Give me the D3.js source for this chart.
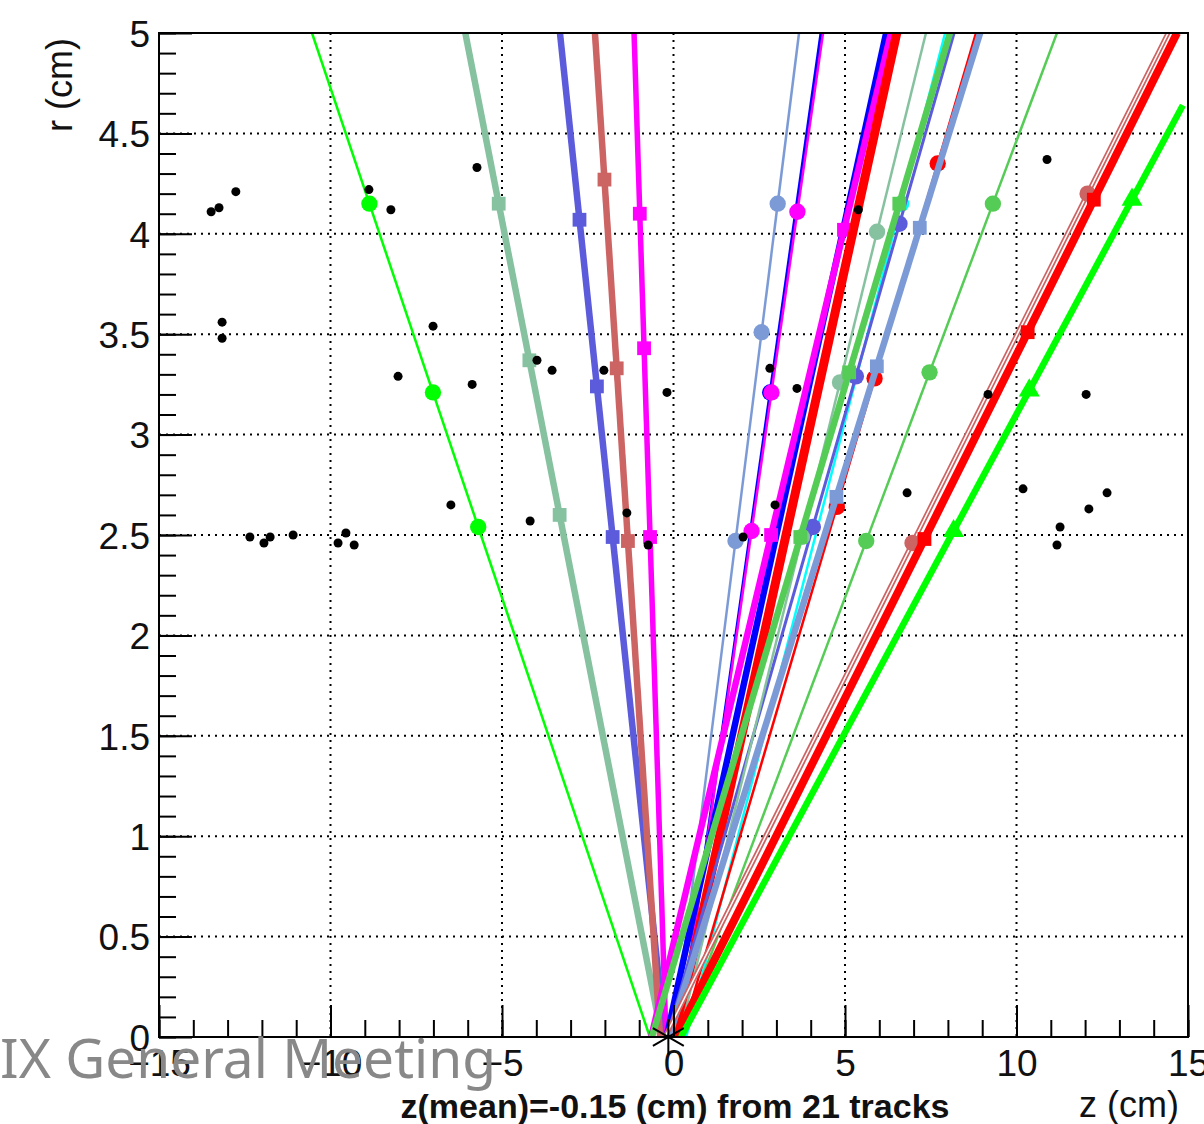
<!DOCTYPE html>
<html>
<head>
<meta charset="utf-8">
<script src="https://cdn.jsdelivr.net/npm/d3@7"></script>
<style>
  body { margin: 0; background: #fff; }
  svg { display: block; }
  .tick text { font-family: "Liberation Sans", Arial, sans-serif; font-size: 37px; fill: #111; }
  .axis path { display: none; }
  .axis line { stroke: #000; stroke-width: 2; }
</style>
</head>
<body>
<div id="chart"></div>
<script>
// track fits: z at r=0, z at the top end, r of the top end
const trackZ0   = [-0.69, -0.34, -0.25, -0.39, -0.22, 0.00, 0.16, 0.16, -0.20, -0.65, 0.05, 0.37, -0.19, 0.16, -0.63, 0.22, -0.13, 0.19, -0.25, 0.07, 0.22];
const trackZTop = [-10.54, -6.07, -3.31, -2.29, -1.15, 3.66, 4.30, 4.36, 6.20, 6.34, 6.51, 7.92, 8.18, 7.36, 8.06, 8.82, 8.94, 11.18, 14.42, 14.68, 14.85];
const trackRTop = [5, 5, 5, 5, 5, 5, 5, 5, 5, 5, 5, 5, 5, 5, 5, 5, 5, 5, 5, 5, 4.64];
const trackColors = ['#00ff00', '#86c1a0', '#5b5bdb', '#cc6464', '#ff00ff', '#7c9bd6', '#0000ff', '#ff00ff',
  '#0000ff', '#ff00ff', '#ff0000', '#00ffff', '#5b5bdb', '#86c1a0', '#55cc55', '#ff0000', '#7c9bd6', '#55cc55',
  '#cc6464', '#ff0000', '#00ff00'];
const trackWidths = [2.5, 6.5, 6.5, 6.5, 5.5, 2.5, 3, 2.5, 6.5, 6.5, 9, 2.5, 3, 2.5, 6.5, 2.5, 6.5, 2.5, 5, 8, 6.5];
const trackMarkers = ['circle', 'square', 'square', 'square', 'square', 'circle', 'circle', 'circle',
  'square', 'square', 'square', 'circle', 'circle', 'circle', 'square', 'circle', 'square', 'circle',
  'circle', 'square', 'triangle'];
// r of the hits assigned to each track
const trackHits = [
  [4.15, 3.21, 2.54], [4.15, 3.37, 2.60], [4.07, 3.24, 2.49], [4.27, 3.33, 2.47], [4.10, 3.43, 2.49],
  [4.15, 3.51, 2.47], [3.21], [4.11, 3.21, 2.52], [], [4.02, 2.50], [], [4.15],
  [4.05, 3.29, 2.54], [4.01, 3.26, 2.49], [4.15, 3.31, 2.49], [4.35, 3.28, 2.64], [4.03, 3.34, 2.69],
  [4.15, 3.31, 2.47], [4.20, 2.46], [4.17, 3.51, 2.48], [4.17, 3.22, 2.52]
];

// hits not used by any track
const freeZ = [-13.48, -13.25, -12.76, -13.16, -13.16, -8.88, -8.24, -8.03, -7.01, -5.87, -6.49, -4.18,
  -12.35, -11.94, -11.76, -11.09, -9.78, -9.55, -9.31, -5.73, -3.98, -3.54, -2.03, -0.19, -1.36, -0.74,
  5.39, 2.81, 3.60, 2.96, 2.03, 6.81, 10.89, 9.17, 12.03, 10.19, 12.64, 12.11, 11.27, 11.18];
const freeR = [4.11, 4.13, 4.21, 3.56, 3.48, 4.22, 4.12, 3.29, 3.54, 3.25, 2.65, 2.57,
  2.49, 2.46, 2.49, 2.50, 2.46, 2.51, 2.45, 4.33, 3.37, 3.32, 3.32, 3.21, 2.61, 2.45,
  4.12, 3.33, 3.23, 2.65, 2.49, 2.71, 4.37, 3.20, 3.20, 2.73, 2.71, 2.63, 2.54, 2.45];

const zMean = -0.15;
const nTracks = 21;

const W = 1204, H = 1124;
const plotLeft = 159, plotRight = 1188, plotTop = 33, plotBottom = 1037;

const svg = d3.select('#chart').append('svg')
  .attr('width', W)
  .attr('height', H);

const x = d3.scaleLinear().domain([-15, 15]).range([plotLeft, plotRight]);
const y = d3.scaleLinear().domain([0, 5]).range([plotBottom, plotTop]);

svg.append('clipPath')
  .attr('id', 'plot-clip')
  .append('rect')
  .attr('x', plotLeft)
  .attr('y', plotTop)
  .attr('width', plotRight - plotLeft)
  .attr('height', plotBottom - plotTop);

// dotted grid
const grid = svg.append('g').attr('class', 'grid');
grid.selectAll('.gx')
  .data([-10, -5, 0, 5, 10])
  .enter()
  .append('line')
  .attr('x1', d => x(d))
  .attr('x2', d => x(d))
  .attr('y1', plotTop)
  .attr('y2', plotBottom)
  .attr('stroke', '#000')
  .attr('stroke-width', 2)
  .attr('stroke-dasharray', '2,5');
grid.selectAll('.gy')
  .data(d3.range(1, 10).map(d => d * 0.5))
  .enter()
  .append('line')
  .attr('x1', plotLeft)
  .attr('x2', plotRight)
  .attr('y1', d => y(d))
  .attr('y2', d => y(d))
  .attr('stroke', '#000')
  .attr('stroke-width', 2)
  .attr('stroke-dasharray', '2,5');

const plot = svg.append('g').attr('clip-path', 'url(#plot-clip)');

const tracks = d3.range(nTracks).map(i => ({
  z0: trackZ0[i],
  zTop: trackZTop[i],
  rTop: trackRTop[i],
  color: trackColors[i],
  width: trackWidths[i],
  marker: trackMarkers[i],
  hits: trackHits[i],
}));

const zOnTrack = (t, r) => t.z0 + (t.zTop - t.z0) * r / t.rTop;

const symbolOf = {
  circle: d3.symbol(d3.symbolCircle, 210),
  square: d3.symbol(d3.symbolSquare, 190),
  triangle: d3.symbol(d3.symbolTriangle, 190),
};

tracks.forEach((t, i) => {
  const g = plot.append('g').attr('class', 'track');
  g.append('line')
    .attr('x1', x(t.z0))
    .attr('y1', y(0))
    .attr('x2', x(t.zTop))
    .attr('y2', y(t.rTop))
    .attr('stroke', t.color)
    .attr('stroke-width', t.width);
  if (i === 18) {
    // the hollow looking one
    g.append('line')
      .attr('x1', x(t.z0))
      .attr('y1', y(0))
      .attr('x2', x(t.zTop))
      .attr('y2', y(t.rTop))
      .attr('stroke', '#fff')
      .attr('stroke-width', 1.5);
  }
  g.selectAll('path')
    .data(t.hits)
    .enter()
    .append('path')
    .attr('d', symbolOf[t.marker])
    .attr('transform', r => `translate(${x(zOnTrack(t, r))}, ${y(r)})`)
    .attr('fill', t.color);
});

plot.selectAll('.free-hit')
  .data(freeZ.map((z, i) => ({ z, r: freeR[i] })))
  .enter()
  .append('circle')
  .attr('class', 'free-hit')
  .attr('cx', d => x(d.z))
  .attr('cy', d => y(d.r))
  .attr('r', 4.5)
  .attr('fill', '#000');

// axes
const yMajor = d3.axisLeft(y).tickValues(d3.range(0, 11).map(d => d * 0.5))
  .tickSize(-33).tickPadding(9).tickFormat(d3.format('~g'));
const yMinor = d3.axisLeft(y).tickValues(d3.range(0, 51).map(d => d * 0.1))
  .tickSize(-17).tickFormat('');
const xMajor = d3.axisBottom(x).tickValues([-15, -10, -5, 0, 5, 10, 15])
  .tickSize(-32).tickPadding(13).tickFormat(d3.format('d'));
const xMinor = d3.axisBottom(x).tickValues(d3.range(-15, 16))
  .tickSize(-17).tickFormat('');

svg.append('g').attr('class', 'axis').attr('transform', `translate(${plotLeft}, 0)`).call(yMinor);
svg.append('g').attr('class', 'axis').attr('transform', `translate(${plotLeft}, 0)`).call(yMajor)
  .selectAll('text').attr('dy', '0.36em');
svg.append('g').attr('class', 'axis').attr('transform', `translate(0, ${plotBottom})`).call(xMinor);
svg.append('g').attr('class', 'axis').attr('transform', `translate(0, ${plotBottom})`).call(xMajor)
  .selectAll('text').attr('dy', '0.71em');

svg.append('rect')
  .attr('x', plotLeft)
  .attr('y', plotTop)
  .attr('width', plotRight - plotLeft)
  .attr('height', plotBottom - plotTop)
  .attr('fill', 'none')
  .attr('stroke', '#000')
  .attr('stroke-width', 2);

// fitted vertex
svg.append('path')
  .attr('d', d3.symbol(d3.symbolAsterisk, 900))
  .attr('transform', `translate(${x(zMean)}, ${y(0)})`)
  .attr('fill', 'none')
  .attr('stroke', '#000')
  .attr('stroke-width', 2);

// titles
svg.append('text')
  .attr('x', 1179)
  .attr('y', 1117)
  .attr('text-anchor', 'end')
  .style('font-family', '"Liberation Sans", Arial, sans-serif')
  .style('font-size', '36px')
  .attr('fill', '#111')
  .text('z (cm)');

svg.append('text')
  .attr('transform', 'translate(72, 38) rotate(-90)')
  .attr('text-anchor', 'end')
  .style('font-family', '"Liberation Sans", Arial, sans-serif')
  .style('font-size', '36px')
  .attr('fill', '#111')
  .text('r (cm)');

svg.append('text')
  .attr('x', 675)
  .attr('y', 1118)
  .attr('text-anchor', 'middle')
  .style('font-family', '"Liberation Sans", Arial, sans-serif')
  .style('font-size', '34px')
  .style('font-weight', 'bold')
  .attr('fill', '#111')
  .text(`z(mean)=${zMean} (cm) from ${nTracks} tracks`);

svg.append('text')
  .attr('x', 0)
  .attr('y', 1078)
  .style('font-family', '"Noto Sans", sans-serif')
  .style('font-size', '55px')
  .attr('fill', '#888')
  .text('IX General Meeting');
</script>
</body>
</html>
